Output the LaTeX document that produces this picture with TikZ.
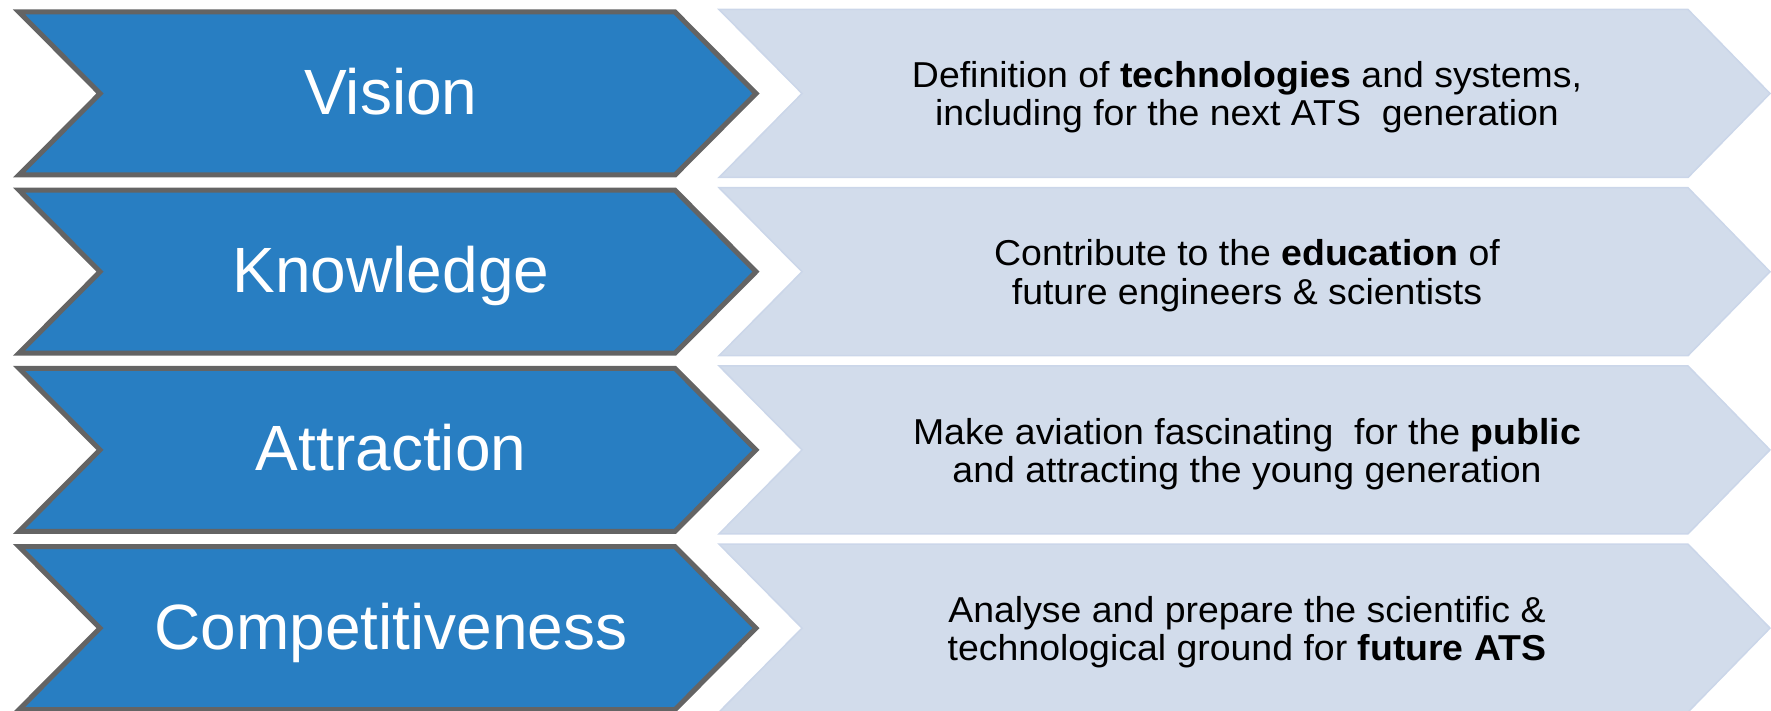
\documentclass[tikz,border=0pt]{standalone}
\usepackage{fontspec}
\setmainfont{Liberation Sans}
\newfontfamily\descfont[FakeStretch=1.04]{Liberation Sans}
\definecolor{chevblue}{RGB}{40,126,194}
\definecolor{chevgray}{RGB}{100,100,100}
\definecolor{chevlight}{RGB}{210,220,235}
\definecolor{chevlightedge}{RGB}{203,214,233}
\tikzset{
  bluechev/.style={fill=chevblue, draw=chevgray, line width=5pt, line join=miter},
  lightchev/.style={fill=chevlight, draw=chevlightedge, line width=1.5pt, line join=miter},
  bigtext/.style={text=white, font=\fontsize{64}{70}\selectfont, inner sep=0pt, anchor=base},
  desctext/.style={text=black, font=\descfont\fontsize{36}{38.3}\selectfont, align=center, inner sep=0pt, anchor=base},
}
\begin{document}
\begin{tikzpicture}[x=1pt,y=-1pt]
\useasboundingbox (0,0) rectangle (1771,711);
\foreach \c in {93.5,271.7,449.9,628.1}{
  \draw[bluechev] (19,\c-81.5) -- (100,\c) -- (19,\c+81.5) -- (675,\c+81.5) -- (756,\c) -- (675,\c-81.5) -- cycle;
  \draw[lightchev] (719,\c-84) -- (802,\c) -- (719,\c+84) -- (1688,\c+84) -- (1770,\c) -- (1688,\c-84) -- cycle;
}
\node[bigtext] (l1) at (391,114.5) {Vision};
\node[bigtext] (l2) at (391,292.7) {Knowledge};
\node[bigtext] (l3) at (391,470.9) {Attraction};
\node[bigtext] (l4) at (391,649.1) {Competitiveness};
\node[desctext] (r1) at (1247,126) {Definition of \textbf{technologies} and systems,\\including for the next ATS\ \ generation};
\node[desctext] (r2) at (1247,304.2) {Contribute to the \textbf{education} of\\future engineers \& scientists};
\node[desctext] (r3) at (1247,482.4) {Make aviation fascinating\ \ for the \textbf{public}\\and attracting the young generation};
\node[desctext] (r4) at (1247,660.6) {Analyse and prepare the scientific \&\\technological ground for \textbf{future ATS}};
\end{tikzpicture}
\end{document}
